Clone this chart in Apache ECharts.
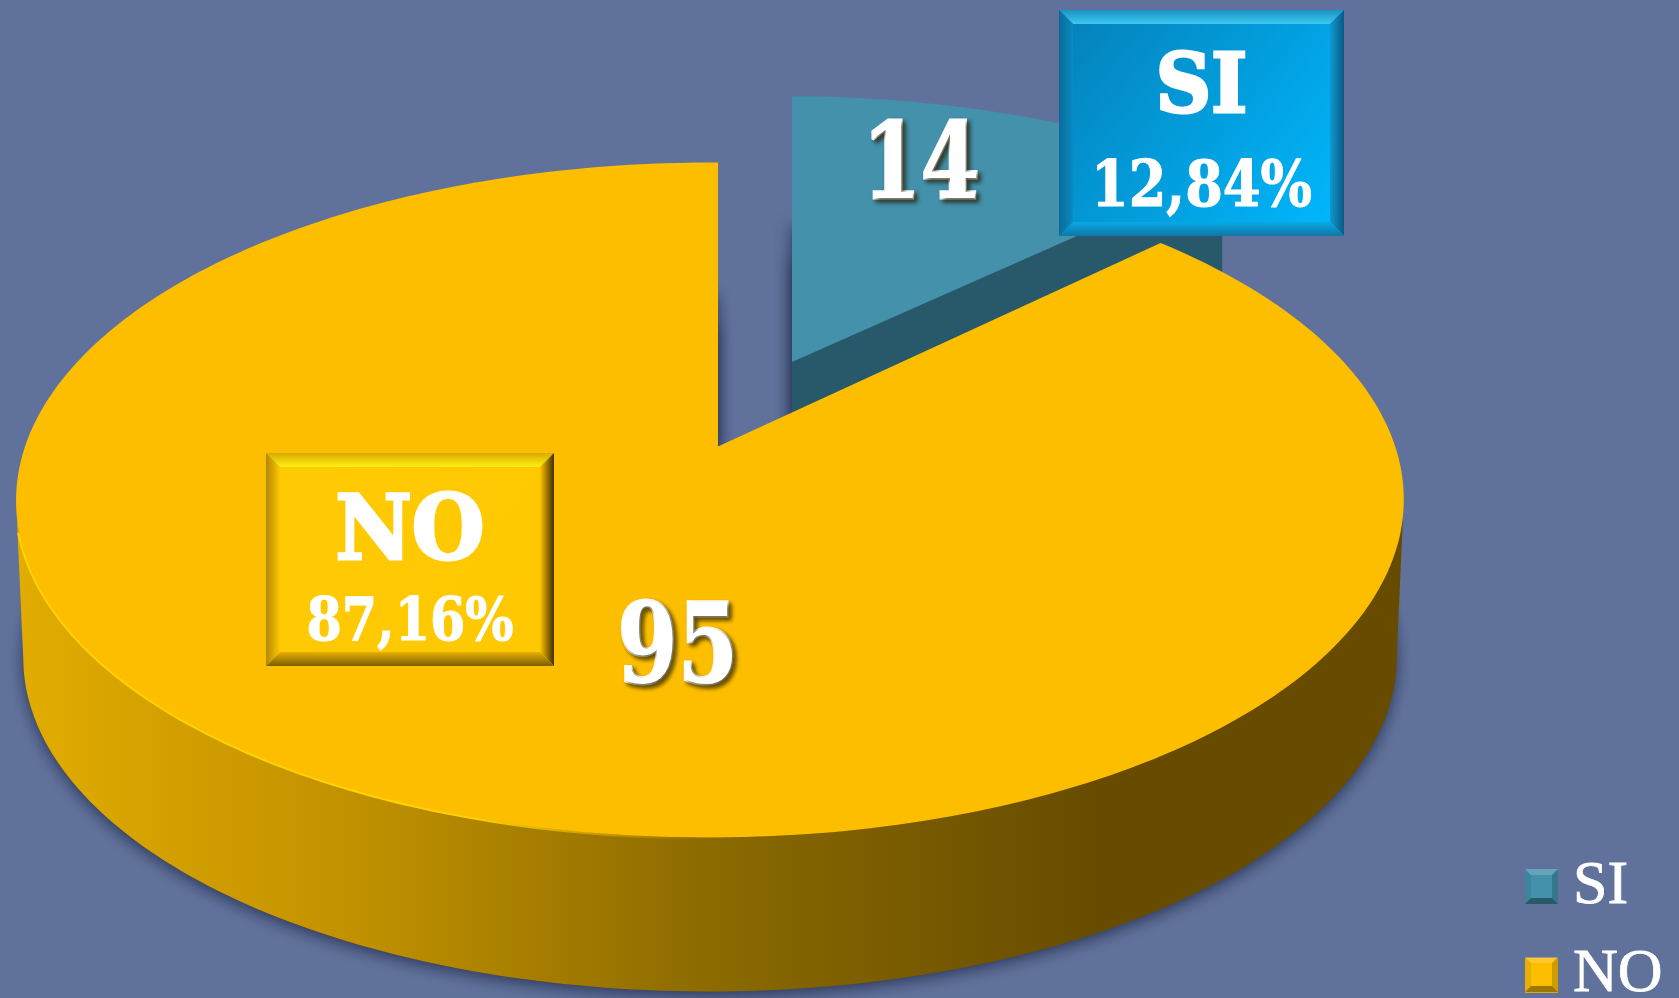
<!DOCTYPE html>
<html>
<head>
<meta charset="utf-8">
<style>
  html, body { margin: 0; padding: 0; background: #60729b; }
  #chart { width: 1679px; height: 998px; }
</style>
<script src="https://cdn.jsdelivr.net/npm/echarts@6/dist/echarts.min.js"></script>
</head>
<body>
<div id="chart"></div>
<script>
const names = ['SI', 'NO']
const values = [14, 95]

const topColors = ['#4391ab', '#fdbe00']
const wallColors = ['#28596a', '#674c00']

const total = values.reduce((a, b) => a + b, 0)
const slabFont = '"DejaVu Serif Condensed", "DejaVu Serif", serif'
const legendFont = 'Liberation Serif'

// perspective of the tilted disc
const tiltY = 0.1585
const tiltX = 0.0115

const planes = [
  {
    top: { cx: 792, cy: 362, a: 666, b: 308 },
    bottom: { cx: 792, cy: 520, a: 666, b: 305 }
  },
  {
    top: { cx: 718, cy: 446.5, a: 685, b: 329 },
    bottom: { cx: 718, cy: 604, a: 678, b: 326 }
  }
]

// dark strips that throw the shadow into the gap between the slices
const gapShadows = [
  { x: 792, y: 222, w: 20, h: 200 },
  { x: 718, y: 292, w: -20, h: 150 }
]

const boxes = [
  {
    x: 1059, y: 10, w: 285, h: 226, bevel: 14,
    fill: ['#0580b8', '#00b9ff'],
    topEdge: ['#1a93c4', '#3cc8f0'],
    leftEdge: ['#0a6a9a', '#0a8cc2'],
    rightEdge: ['#0d9ad2', '#0c5a82'],
    bottomEdge: ['#0aa8e4', '#0f78a8'],
    title: { y: 91, size: 82, scale: 1.04, stroke: 3 },
    pct: { y: 189, size: 64, scale: 0.94, stroke: 1 }
  },
  {
    x: 266, y: 453, w: 288, h: 213, bevel: 14,
    fill: ['#ffcb05', '#ffc800'],
    topEdge: ['#d9a900', '#fff012'],
    leftEdge: ['#b08800', '#ffc800'],
    rightEdge: ['#ffc400', '#3e2e00'],
    bottomEdge: ['#e8b000', '#7a5e00'],
    title: { y: 536, size: 90, scale: 1.03, stroke: 3 },
    pct: { y: 624, size: 60, scale: 0.94, stroke: 1 }
  }
]

const valueLabels = [
  { x: 921, y: 171, size: 104, scale: 0.9, stroke: 3 },
  { x: 678, y: 653, size: 110, scale: 0.88, stroke: 3 }
]

function project (plane, angle) {
  const x = Math.sin(angle)
  const y = Math.cos(angle)
  const w = 1 + tiltY * y + tiltX * x
  return [plane.cx + plane.a * x / w, plane.cy - plane.b * y / w]
}

function rim (plane, from, to) {
  const steps = Math.max(2, Math.ceil(Math.abs(to - from) / (Math.PI / 180)))
  const pts = []
  for (let s = 0; s <= steps; s++) {
    pts.push(project(plane, from + (to - from) * s / steps))
  }
  return pts
}

function gradient (dir, stops) {
  const x2 = dir === 'h' ? 1 : dir === 'd' ? 1 : 0
  const y2 = dir === 'v' ? 1 : dir === 'd' ? 1 : 0
  return {
    type: 'linear',
    x: 0,
    y: 0,
    x2,
    y2,
    colorStops: stops.map((c, i) => ({ offset: i / (stops.length - 1), color: c }))
  }
}

function poly (points, style) {
  return { type: 'polygon', shape: { points }, style }
}

function label (text, x, y, conf, shadow) {
  return {
    type: 'text',
    x,
    y,
    scaleX: conf.scale,
    style: {
      text,
      x: 0,
      y: 0,
      align: 'center',
      verticalAlign: 'middle',
      font: 'bold ' + conf.size + 'px ' + slabFont,
      fill: '#fff',
      stroke: '#fff',
      lineWidth: conf.stroke,
      textShadowColor: shadow ? 'rgba(40,30,0,0.7)' : 'transparent',
      textShadowBlur: shadow ? 4 : 0,
      textShadowOffsetX: shadow ? 3 : 0,
      textShadowOffsetY: shadow ? 3 : 0
    }
  }
}

function bevelBox (box, name, pct) {
  const { x, y, w, h, bevel: e } = box
  const r = x + w
  const b = y + h
  return [
    poly([[x, y], [r, y], [r, b], [x, b]], { fill: gradient('d', box.fill) }),
    poly([[x, y], [r, y], [r - e, y + e], [x + e, y + e]], { fill: gradient('v', box.topEdge) }),
    poly([[x, y], [x + e, y + e], [x + e, b - e], [x, b]], { fill: gradient('h', box.leftEdge) }),
    poly([[r, y], [r, b], [r - e, b - e], [r - e, y + e]], { fill: gradient('h', box.rightEdge) }),
    poly([[x, b], [x + e, b - e], [r - e, b - e], [r, b]], { fill: gradient('v', box.bottomEdge) }),
    label(name, x + w / 2, box.title.y, box.title, false),
    label(pct, x + w / 2, box.pct.y, box.pct, false)
  ]
}

const baseShadow = {
  shadowColor: '#2b3658',
  shadowBlur: 16,
  shadowOffsetY: 4
}

function makeSlice (index) {
  return (params, api) => {
    const before = values.slice(0, index).reduce((a, b) => a + b, 0)
    const start = before / total * Math.PI * 2
    const end = (before + api.value(0)) / total * Math.PI * 2
    const { top, bottom } = planes[index]
    const tipTop = [top.cx, top.cy]
    const tipBottom = [bottom.cx, bottom.cy]
    const gap = gapShadows[index]
    const children = []

    children.push(poly([
      [gap.x, gap.y],
      [gap.x + gap.w, gap.y],
      [gap.x + gap.w, gap.y + gap.h],
      [gap.x, gap.y + gap.h]
    ], { fill: wallColors[index], ...baseShadow }))

    children.push(poly([tipBottom, ...rim(bottom, start, end)], {
      fill: wallColors[index],
      ...baseShadow
    }))

    if (index === 0) {
      const cornerTop = project(top, end)
      const cornerBottom = project(bottom, end)
      children.push(poly([tipTop, cornerTop, cornerBottom, tipBottom], { fill: wallColors[index] }))
    } else {
      const side = Math.acos(-tiltY)
      const front = rim(top, side, Math.PI * 2 - side)
      const back = rim(bottom, side, Math.PI * 2 - side).reverse()
      children.push(poly([...front, ...back], {
        fill: {
          type: 'linear',
          x: 0,
          y: 0,
          x2: 1,
          y2: 0,
          colorStops: [
            { offset: 0, color: '#e2ac00' },
            { offset: 0.25, color: '#c09000' },
            { offset: 0.5, color: '#8b6a00' },
            { offset: 0.78, color: '#674c00' },
            { offset: 1, color: '#674c00' }
          ]
        }
      }))
      // bright lip on the lit side of the rim, half hidden by the top face
      children.push({
        type: 'polyline',
        shape: { points: rim(top, Math.PI * 1.01, Math.PI * 1.42) },
        style: {
          fill: null,
          stroke: gradient('h', ['#ffd200', '#ffd200', '#ffd200', 'rgba(255,200,0,0)']),
          lineWidth: 4
        }
      })
    }

    children.push(poly([tipTop, ...rim(top, start, end)], { fill: topColors[index] }))

    const pct = (api.value(0) / total * 100).toFixed(2).replace('.', ',') + '%'
    const v = valueLabels[index]
    children.push(label(String(api.value(0)), v.x, v.y, v, true))
    children.push(...bevelBox(boxes[index], names[index], pct))

    return { type: 'group', children }
  }
}

// bevel shading laid over the legend swatches
const swatchX = 1525
const swatchY = [869, 957]
const swatchW = 33
const swatchH = 35
const swatchEdge = 6

function swatchBevel (y) {
  const x = swatchX
  const r = x + swatchW
  const b = y + swatchH
  const e = swatchEdge
  const shade = (points, fill) => ({
    type: 'polygon',
    silent: true,
    z: 20,
    shape: { points },
    style: { fill }
  })
  return [
    shade([[x, y], [r, y], [r - e, y + e], [x + e, y + e]], 'rgba(255,255,255,0.18)'),
    shade([[x, y], [x + e, y + e], [x + e, b - e], [x, b]], 'rgba(0,0,0,0.08)'),
    shade([[r, y], [r, b], [r - e, b - e], [r - e, y + e]], 'rgba(0,0,0,0.18)'),
    shade([[x, b], [x + e, b - e], [r - e, b - e], [r, b]], 'rgba(0,0,0,0.38)')
  ]
}

const chart = echarts.init(document.getElementById('chart'), null, { renderer: 'canvas' })

chart.setOption({
  backgroundColor: '#60729b',
  animation: false,
  legend: {
    orient: 'vertical',
    left: swatchX,
    top: 855,
    height: 300,
    padding: 0,
    icon: 'rect',
    itemWidth: swatchW,
    itemHeight: swatchH,
    itemGap: 26,
    data: names,
    textStyle: {
      color: '#fff',
      fontFamily: legendFont,
      fontSize: 62,
      textBorderColor: '#fff',
      textBorderWidth: 0.8,
      padding: [0, 0, 0, 10]
    }
  },
  graphic: swatchY.flatMap(swatchBevel),
  series: names.map((name, i) => ({
    name,
    type: 'custom',
    coordinateSystem: 'none',
    silent: true,
    itemStyle: { color: topColors[i] },
    data: [[values[i]]],
    renderItem: makeSlice(i)
  }))
})
</script>
</body>
</html>
